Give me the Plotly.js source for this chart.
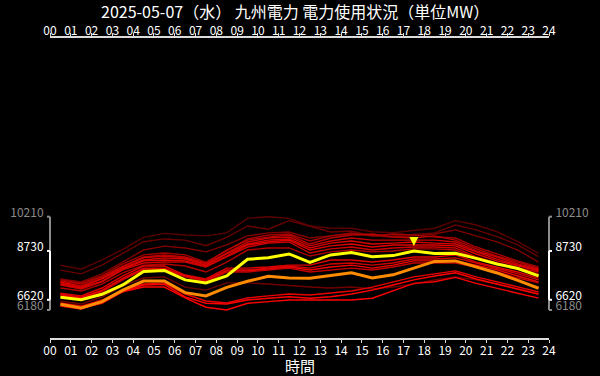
<!DOCTYPE html>
<html><head><meta charset="utf-8">
<script src="https://cdn.plot.ly/plotly-3.0.1.min.js"></script>
<style>html,body{margin:0;padding:0;background:#000;}#chart{width:600px;height:376px;}</style>
</head><body><div id="chart"></div>
<script>
// x positions (hour centers) and tick labels
const hoursX = [0.5,1.5,2.5,3.5,4.5,5.5,6.5,7.5,8.5,9.5,10.5,11.5,12.5,13.5,14.5,15.5,16.5,17.5,18.5,19.5,20.5,21.5,22.5,23.5];
const hourTickVals = [0,1,2,3,4,5,6,7,8,9,10,11,12,13,14,15,16,17,18,19,20,21,22,23,24];
const hourTickText = ['00','01','02','03','04','05','06','07','08','09','10','11','12','13','14','15','16','17','18','19','20','21','22','23','24'];

// today (yellow) and comparison (orange)
const today   = [6730,6620,6860,7260,7840,7890,7480,7350,7650,8370,8440,8600,8240,8560,8660,8480,8530,8730,8620,8630,8410,8170,7970,7650];
const compare = [6430,6270,6540,7040,7430,7430,6930,6790,7160,7420,7640,7560,7550,7660,7790,7560,7700,7990,8280,8300,8050,7780,7460,7120];

// past days (red shades)
const d1 = [8110,7940,8340,8800,9320,9490,9420,9380,9510,10140,10210,10140,9810,9710,9710,9560,9520,9610,9710,10040,9850,9560,9130,8630];
const d2 = [7900,7740,8120,8630,9130,9250,9200,8960,9320,9810,9670,10040,9780,9550,9590,9380,9380,9460,9510,9850,9640,9350,8990,8480];
const d3 = [7520,7390,7740,8250,8770,8940,8860,8690,8990,9380,9510,9550,9290,9380,9460,9380,9330,9380,9460,9640,9380,9120,8770,8250];
const u1 = [7480,7350,7650,8170,8560,8640,8560,8250,8730,9250,9420,9460,9160,9380,9510,9380,9460,9420,9330,9290,8900,8600,8300,8040];
const u2 = [7430,7300,7610,8080,8470,8560,8470,8210,8770,9200,9330,9420,9030,9290,9420,9460,9330,9290,9380,9200,8820,8510,8250,7990];
const u3 = [7390,7220,7560,8040,8430,8510,8430,8170,8640,9120,9290,9330,8950,9160,9290,9200,9200,9200,9200,9120,8730,8470,8170,7950];
const u4 = [7350,7170,7520,7990,8340,8430,8380,8120,8600,9030,9200,9250,8860,9070,9160,9030,9070,9120,9070,9030,8690,8380,8120,7910];
const u5 = [7300,7130,7430,7950,8300,8340,8300,8080,8510,8990,9120,9200,8770,8950,9030,8900,8990,8990,8990,8950,8600,8300,8080,7870];
const u6 = [7260,7090,7390,7910,8210,8250,8250,8040,8470,8900,9070,9120,8640,8820,8900,8770,8860,8900,8900,8860,8470,8210,7990,7820];
const m0 = [7130,7000,7300,7780,8120,8170,8080,7820,8250,8770,8860,8860,8510,8690,8770,8690,8730,8820,8820,8770,8430,8170,7950,7740];
const m1 = [6910,6790,7130,7650,8080,8080,7690,7520,7990,7990,8040,8120,8120,8340,8340,8250,8340,8470,8470,8560,8250,8040,7820,7560];
const m2 = [6870,6740,7040,7560,7990,7990,7650,7480,7910,7910,7990,8080,7990,8170,8210,8120,8210,8380,8380,8430,8210,7990,7740,7480];
const m3 = [6830,6700,7000,7520,7950,7950,7650,7430,7870,7870,7950,8040,7910,8040,8120,7990,8120,8300,8300,8300,8120,7910,7650,7390];
const m4 = [6790,6660,6960,7480,7910,7910,7610,7390,7820,7820,7910,7990,7820,7910,7990,7910,8040,8210,8210,8210,8040,7820,7560,7350];
const l1 = [6570,6440,6740,7220,7560,7610,7170,7040,7350,7350,7300,7220,7170,7130,7170,7090,7170,7300,7480,7610,7480,7300,7090,6910];
const b1 = [6400,6250,6470,6970,7260,7290,6750,6470,6440,6610,6690,6750,6690,6750,6870,7040,7260,7480,7650,7790,7520,7300,7070,6860];
const b2 = [6350,6220,6530,6960,7170,7170,6700,6300,6180,6470,6540,6610,6610,6610,6610,6690,7010,7330,7400,7590,7330,7120,6900,6690];
const b3 = [6480,6350,6610,7040,7300,7350,6870,6570,6480,6700,6790,6870,6830,6910,7000,7170,7390,7610,7740,7870,7610,7390,7170,6960];

const pastSeries = [d1,d2,d3,u1,u2,u3,u4,u5,u6,m0,m1,m2,m3,m4,l1,b1,b2,b3];
const pastColors = ['#5a0000','#680000','#800000','#a00000','#b80000','#c80000','#d80000','#e00000','#cc0000','#b00000','#e00000','#d00000','#f00000','#c00000','#700000','#ff0000','#ff0000','#e80000'];

const titleText = '2025-05-07（水） 九州電力 電力使用状況（単位MW）';
const xTitleText = '時間';

const FONT = '"Noto Sans CJK JP", "Noto Sans", sans-serif';
const GREY = '#8c8c8c';
const AXIS = '#dcdcdc';

const allVals = [].concat(...pastSeries, today, compare);
const allMax = Math.max(...allVals), allMin = Math.min(...allVals);
const todayMax = Math.max(...today), todayMin = Math.min(...today);
const peakX = hoursX[today.indexOf(todayMax)];
const yTicks = [allMin, todayMin, todayMax, allMax];
const yTickColors = [GREY, '#ffffff', '#ffffff', GREY];
const yTickText = yTicks.map((v,i)=>`<span style="color:${yTickColors[i]}">${v}</span>`);

const traces = [];
pastSeries.forEach((s,i)=>traces.push({x:hoursX, y:s, mode:'lines', line:{color:pastColors[i], width:1.4}, hoverinfo:'skip', showlegend:false}));
traces.push({x:hoursX, y:compare, mode:'lines', line:{color:'#ff8c00', width:3}, hoverinfo:'skip', showlegend:false});
traces.push({x:hoursX, y:today, mode:'lines', line:{color:'#ffff00', width:3}, hoverinfo:'skip', showlegend:false});
traces.push({x:[null], y:[null], xaxis:'x2', yaxis:'y2', mode:'lines', hoverinfo:'skip', showlegend:false});

function bracket(xp, dir){
  const out = [
    {type:'line', xref:'paper', yref:'y', x0:xp, x1:xp, y0:allMin, y1:allMax, line:{color:GREY, width:2}, layer:'above'},
    {type:'line', xref:'paper', yref:'y', x0:xp, x1:xp, y0:todayMin, y1:todayMax, line:{color:'#ffffff', width:2}, layer:'above'}
  ];
  yTicks.forEach((v,i)=>out.push({type:'line', xref:'paper', xsizemode:'pixel', xanchor:xp, x0:0, x1:3*dir, yref:'y', y0:v, y1:v, line:{color:yTickColors[i], width:2}, layer:'above'}));
  return out;
}
const shapes = [].concat(bracket(0,-1), bracket(1,1));
shapes.push({type:'path', xref:'x', yref:'y', xsizemode:'pixel', ysizemode:'pixel', xanchor:peakX, yanchor:todayMax,
  path:'M -4.5 14 L 4.5 14 L 0 5 Z', fillcolor:'#ffff00', line:{width:0}, layer:'above'});

const yRange = [4970, 17930];
const xAxisBase = {range:[0,24], tickvals:hourTickVals, ticktext:hourTickText, showline:true, linecolor:AXIS, linewidth:2,
  ticks:'outside', ticklen:3, tickcolor:AXIS, tickwidth:1, showgrid:false, zeroline:false, fixedrange:true,
  tickfont:{family:FONT, size:12, color:'#ffffff'}};
const yAxisBase = {range:yRange, tickvals:yTicks, ticktext:yTickText, showline:false, showgrid:false, zeroline:false,
  ticks:'outside', ticklen:3, tickcolor:'rgba(0,0,0,0)', ticklabelshift:-4, fixedrange:true,
  tickfont:{family:FONT, size:12, color:'#ffffff'}};

const layout = {
  width:600, height:376,
  paper_bgcolor:'#000', plot_bgcolor:'#000',
  margin:{l:50, r:51, t:38, b:38},
  font:{family:FONT, color:'#ffffff'},
  title:{text:titleText, font:{family:FONT, size:16, color:'#ffffff'}, xref:'container', yref:'container', x:0.492, y:1-12/376, xanchor:'center', yanchor:'middle'},
  xaxis:Object.assign({}, xAxisBase, {side:'bottom', anchor:'y', ticklabelstandoff:-2}),
  xaxis2:Object.assign({}, xAxisBase, {side:'top', overlaying:'x', anchor:'y', ticklabelstandoff:-7}),
  yaxis:Object.assign({}, yAxisBase, {side:'left', anchor:'x'}),
  yaxis2:Object.assign({}, yAxisBase, {side:'right', overlaying:'y', anchor:'x'}),
  shapes:shapes,
  annotations:[{text:xTitleText, xref:'paper', yref:'paper', x:0.5, y:0, xanchor:'center', yanchor:'middle', yshift:-27, showarrow:false, font:{family:FONT, size:15, color:'#ffffff'}}],
  showlegend:false
};
Plotly.newPlot('chart', traces, layout, {staticPlot:true, displayModeBar:false});
</script>
</body></html>
